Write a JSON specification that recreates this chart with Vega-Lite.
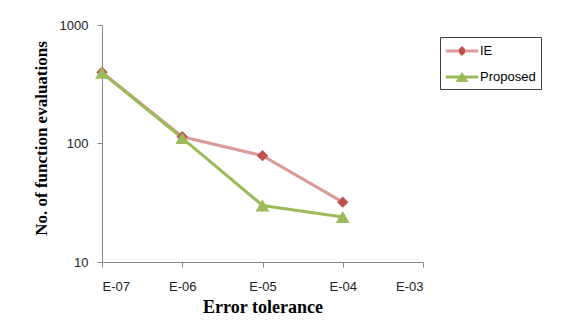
{
  "$schema": "https://vega.github.io/schema/vega-lite/v6.json",
  "width": 321,
  "height": 237,
  "autosize": {"type": "none"},
  "padding": {"left": 102, "top": 25, "right": 138, "bottom": 67},
  "background": "white",
  "config": {
    "view": {"stroke": null},
    "axis": {
      "grid": false,
      "domainColor": "#868686",
      "tickColor": "#868686",
      "tickSize": 5,
      "labelFont": "Liberation Sans",
      "labelFontSize": 13,
      "labelColor": "#222222",
      "titleFont": "Liberation Serif",
      "titleFontSize": 17,
      "titleFontWeight": "bold",
      "titleColor": "#000000"
    }
  },
  "data": {
    "values": [
      {"tol": 1e-7, "series": "IE", "evals": 400},
      {"tol": 1e-6, "series": "IE", "evals": 114},
      {"tol": 1e-5, "series": "IE", "evals": 79},
      {"tol": 1e-4, "series": "IE", "evals": 32},
      {"tol": 1e-7, "series": "Proposed", "evals": 395},
      {"tol": 1e-6, "series": "Proposed", "evals": 111},
      {"tol": 1e-5, "series": "Proposed", "evals": 30},
      {"tol": 1e-4, "series": "Proposed", "evals": 24}
    ]
  },
  "layer": [
    {
      "mark": {"type": "line", "strokeWidth": 3},
      "encoding": {
        "x": {
          "field": "tol",
          "type": "quantitative",
          "scale": {"type": "log", "domain": [1e-7, 1e-3], "nice": false},
          "axis": {
            "title": "Error tolerance",
            "titleFontSize": 18,
            "values": [1e-7, 1e-6, 1e-5, 1e-4, 1e-3],
            "labelExpr": "'E-0' + round(-log(datum.value) / LN10)",
            "labelPadding": 13,
            "titlePadding": 5
          }
        },
        "y": {
          "field": "evals",
          "type": "quantitative",
          "scale": {"type": "log", "domain": [10, 1000], "nice": false},
          "axis": {
            "title": "No. of function evaluations",
            "values": [10, 100, 1000],
            "format": "d",
            "labelPadding": 9,
            "titlePadding": 9,
            "titleY": 113
          }
        },
        "color": {
          "field": "series",
          "type": "nominal",
          "title": "",
          "scale": {"domain": ["IE", "Proposed"], "range": ["#DA9A98", "#9BBB59"]},
          "legend": {
            "orient": "none",
            "legendX": 338,
            "legendY": 12,
            "strokeColor": "#404040",
            "padding": 5,
            "rowPadding": 10,
            "labelFont": "Liberation Sans",
            "labelFontSize": 13,
            "labelColor": "#000000",
            "labelOffset": 9,
            "symbolSize": 324,
            "symbolOffset": 8,
            "encode": {
              "symbols": {
                "update": {
                  "shape": {"signal": "datum.value === 'IE' ? 'M-1.8,-0.17L-0.38,-0.17L0,-0.55L0.38,-0.17L1.8,-0.17L1.8,0.17L0.38,0.17L0,0.55L-0.38,0.17L-1.8,0.17Z' : 'M-1.8,-0.17L-0.25,-0.17L0,-0.55L0.25,-0.17L1.8,-0.17L1.8,0.17L0.47,0.17L0.72,0.55L-0.72,0.55L-0.47,0.17L-1.8,0.17Z'"},
                  "fill": {"signal": "datum.value === 'IE' ? {gradient: 'linear', x1: 0, y1: 0, x2: 1, y2: 0, stops: [{offset: 0, color: '#DA9A98'}, {offset: 0.395, color: '#DA9A98'}, {offset: 0.395, color: '#C0504D'}, {offset: 0.605, color: '#C0504D'}, {offset: 0.605, color: '#DA9A98'}, {offset: 1, color: '#DA9A98'}]} : '#9BBB59'"},
                  "fillOpacity": {"value": 1},
                  "strokeWidth": {"value": 0},
                  "opacity": {"value": 1}
                }
              }
            }
          }
        }
      }
    },
    {
      "transform": [{"filter": "datum.series === 'IE'"}],
      "mark": {"type": "point", "filled": true, "opacity": 1, "shape": "diamond", "size": 130, "color": "#C0504D"},
      "encoding": {
        "x": {"field": "tol", "type": "quantitative"},
        "y": {"field": "evals", "type": "quantitative"}
      }
    },
    {
      "transform": [{"filter": "datum.series === 'Proposed'"}],
      "mark": {"type": "point", "filled": true, "opacity": 1, "shape": "triangle-up", "size": 190, "color": "#9BBB59"},
      "encoding": {
        "x": {"field": "tol", "type": "quantitative"},
        "y": {"field": "evals", "type": "quantitative"}
      }
    }
  ]
}
